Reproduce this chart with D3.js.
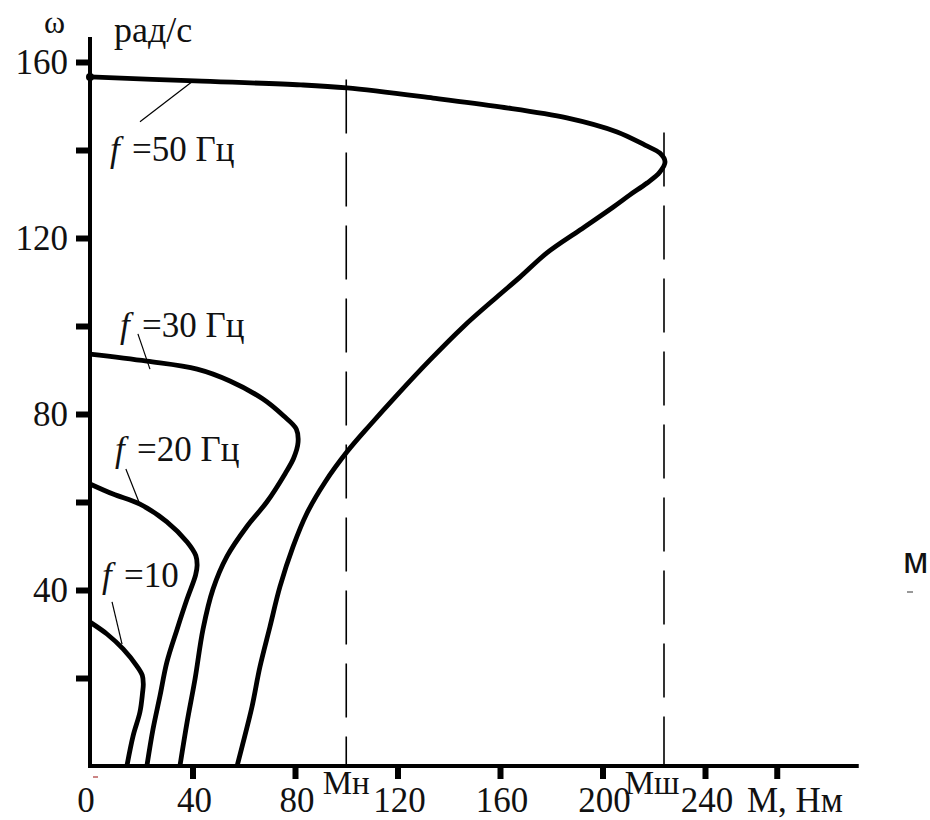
<!DOCTYPE html>
<html><head><meta charset="utf-8">
<script src="https://cdn.jsdelivr.net/npm/d3@7"></script>
<style>
html,body{margin:0;padding:0;background:#fff;}
svg{display:block;}
</style></head>
<body>
<svg id="chart" width="930" height="820"></svg>
<script>
// ---- data (M in N·m, ω in rad/s) ----
const curve50 = [[0,156.6],[41,155.7],[82.3,154.8],[100.3,154.1],[133.9,151.8],[160,149.8],[186.1,147.3],[205.7,144.1],[216.6,141.1],[222.4,139.3],[224.4,137.3],[222.4,135.0],[217.4,132.5],[210.7,129.8],[204.1,127],[191.2,121.8],[178.3,116.6],[167.8,111.1],[158.8,106.6],[145.6,99.8],[132.7,92.3],[119.8,84.3],[109.3,77.5],[100.3,71.4],[91.7,64.5],[84.7,57.5],[79.2,49.8],[74.1,40.7],[70.2,31.6],[66.3,22.5],[63.2,13.4],[59.3,4.3],[57.4,0]];
const curve30 = [[0,93.6],[22.2,92],[41.8,90.2],[54.6,87.5],[67.5,83.4],[75.5,79.6],[80.5,76.6],[81.2,73.6],[79.5,70],[76.2,66.5],[69,60],[61.3,54.5],[53.5,47.7],[48,40.2],[44.1,31.1],[41,19.8],[37.9,10],[35.1,0]];
const curve20 = [[0,64.1],[9,61.8],[19.5,59.5],[30,55.5],[37.9,50.9],[41.3,47.8],[41.8,45.6],[41.2,43.4],[37.9,38],[34,31.1],[30,23.6],[27.3,15.9],[24.6,8.4],[22.2,0]];
const curve10 = [[0,32.7],[6.6,30],[12.9,26.6],[18.3,22.7],[20.4,20.6],[20.8,18.6],[20.5,16.6],[19.5,12.3],[16.8,6.8],[14.4,0]];
const curves = [curve50, curve30, curve20, curve10];

const yTicks = [20,40,60,80,100,120,140,160];
const yTickLabels = [40,80,120,160];
const xTicks = [40,80,120,160,200,240,268];
const xTickLabels = [0,40,80,120,160,200,240];

const refM = [100, 224];          // Mн, Mш
const refTop = [156, 144];        // top of dashed lines (ω)
const refLabels = ["Мн", "Мш"];

const freqLabels = ["=50 Гц", "=30 Гц", "=20 Гц", "=10"];
const labelAt = [[7.8,137.5],[11.7,97.5],[9.8,69.3],[4.7,40.7]];
const leaderFrom = [[19.5,146.4],[18.7,98.2],[14.0,67.5],[8.6,37.3]];
const leaderTo = [[40.2,155.7],[23.4,90.2],[19.1,60],[12.5,27.7]];

const yTitle = ["ω", "рад/с"];
const xTitle = "М, Нм";
const strayText = "м";

// ---- scales ----
const x = d3.scaleLinear().domain([0,240]).range([90,705]);
const y = d3.scaleLinear().domain([0,160]).range([766,62]);
const xEnd = 300, yEnd = 165.7;

const SERIF = "'Liberation Serif','Times New Roman','DejaVu Serif',serif";
const svg = d3.select("#chart");

// axes lines
svg.append("line").attr("x1",x(0)).attr("x2",x(0)).attr("y1",y(0)+2).attr("y2",y(yEnd))
  .attr("stroke","#000").attr("stroke-width",4);
svg.append("line").attr("x1",x(0)-2).attr("x2",x(xEnd)).attr("y1",y(0)).attr("y2",y(0))
  .attr("stroke","#000").attr("stroke-width",4);

// ticks via d3 axes
const yAxis = svg.append("g").attr("transform",`translate(${x(0)},0)`)
  .call(d3.axisLeft(y).tickValues(yTicks).tickSize(14).tickSizeOuter(0).tickFormat(""));
yAxis.select(".domain").remove();
yAxis.selectAll(".tick line").attr("stroke","#000").attr("stroke-width",6);

const xAxis = svg.append("g").attr("transform",`translate(0,${y(0)})`)
  .call(d3.axisBottom(x).tickValues(xTicks).tickSize(13).tickSizeOuter(0).tickFormat(""));
xAxis.select(".domain").remove();
xAxis.selectAll(".tick line").attr("stroke","#000").attr("stroke-width",6);

function txt(px, py, s, size, anchor, sy){
  return svg.append("text")
    .attr("transform",`translate(${px},${py}) scale(1,${sy||1})`)
    .attr("font-size",size).attr("text-anchor",anchor||"start")
    .attr("font-family",SERIF).style("font-family",SERIF)
    .attr("fill","#111").text(s);
}

// tick labels
yTickLabels.forEach(v => txt(68, y(v)+12, String(v), 35, "end", 1.05));
xTickLabels.forEach(v => txt(x(v)+(v===0?-4:2), 812, String(v), 35, "middle", 1.05));

// dashed reference lines
refM.forEach((m,i) => {
  svg.append("line").attr("x1",x(m)).attr("x2",x(m)).attr("y1",y(refTop[i])).attr("y2",y(0))
    .attr("stroke","#000").attr("stroke-width",1.6).attr("stroke-dasharray","54,19");
  txt(x(m)-(i===0?0:12), 794, refLabels[i], 33, "middle");
});

// curves
const line = d3.line().x(d => x(d[0])).y(d => y(d[1])).curve(d3.curveCatmullRom.alpha(0.5));
curves.forEach(c => {
  svg.append("path").attr("d",line(c)).attr("fill","none").attr("stroke","#000")
    .attr("stroke-width",4.8).attr("stroke-linejoin","round").attr("stroke-linecap","butt");
});
svg.append("circle").attr("cx",x(0)).attr("cy",y(curve50[0][1])).attr("r",4).attr("fill","#000");

// frequency labels & leaders
freqLabels.forEach((s,i) => {
  const [lx,ly] = labelAt[i];
  const t = svg.append("text")
    .attr("transform",`translate(${x(lx)},${y(ly)}) scale(1,1.05)`)
    .attr("font-size",35).attr("font-family",SERIF).style("font-family",SERIF).attr("fill","#111");
  t.append("tspan").attr("font-style","italic").text("f");
  t.append("tspan").attr("x",22).text(s);
  svg.append("line")
    .attr("x1",x(leaderFrom[i][0])).attr("y1",y(leaderFrom[i][1]))
    .attr("x2",x(leaderTo[i][0])).attr("y2",y(leaderTo[i][1]))
    .attr("stroke","#000").attr("stroke-width",1.2);
});

// axis titles
txt(44, 33, yTitle[0], 32, "start");
txt(114, 42, yTitle[1], 36, "start");
txt(747, 812, xTitle, 35, "start", 1.05);

// stray marks at right edge / near origin
svg.append("text").attr("x",903).attr("y",573).attr("font-size",37)
  .attr("font-family","'Liberation Sans',Arial,sans-serif").attr("fill","#111").text(strayText);
svg.append("line").attr("x1",907).attr("x2",913).attr("y1",592).attr("y2",592)
  .attr("stroke","#333").attr("stroke-width",1);
svg.append("line").attr("x1",93).attr("x2",98).attr("y1",777).attr("y2",777)
  .attr("stroke","#a33").attr("stroke-width",1.2);
</script>
</body></html>
